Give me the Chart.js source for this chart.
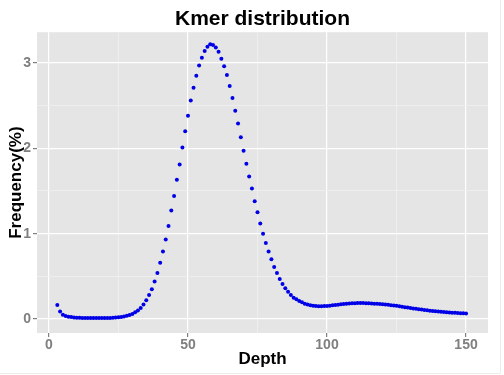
<!DOCTYPE html>
<html>
<head>
<meta charset="utf-8">
<script src="https://cdn.jsdelivr.net/npm/chart.js@4"></script>
<style>
  html, body { margin: 0; padding: 0; background: #fff; }
  #wrap { width: 504px; height: 375px; }
</style>
</head>
<body>
<div id="wrap"><canvas id="mycanvas" width="504" height="375"></canvas></div>
<script>
// kmer depth vs frequency
const depths = [3,4,5,6,7,8,9,10,11,12,13,14,15,16,17,18,19,20,21,22,23,24,25,26,27,28,29,30,
  31,32,33,34,35,36,37,38,39,40,41,42,43,44,45,46,47,48,49,50,51,52,53,54,55,56,57,58,59,60,
  61,62,63,64,65,66,67,68,69,70,71,72,73,74,75,76,77,78,79,80,81,82,83,84,85,86,87,88,89,90,
  91,92,93,94,95,96,97,98,99,100,101,102,103,104,105,106,107,108,109,110,111,112,113,114,115,116,117,118,119,120,
  121,122,123,124,125,126,127,128,129,130,131,132,133,134,135,136,137,138,139,140,141,142,143,144,145,146,147,148,149,150]

const freq = [0.165,0.088,0.05,0.035,0.027,0.022,0.018,0.016,0.014,0.013,0.012,0.012,0.011,0.011,0.011,0.011,0.011,0.012,0.012,0.013,0.015,0.017,0.02,0.024,0.03,0.038,0.048,0.06,
  0.078,0.1,0.13,0.17,0.22,0.28,0.35,0.44,0.54,0.66,0.79,0.93,1.09,1.27,1.44,1.63,1.81,2.01,2.20,2.38,2.56,2.71,2.85,2.97,3.06,3.14,3.19,3.22,3.21,3.18,
  3.13,3.05,2.96,2.86,2.73,2.59,2.44,2.29,2.13,1.97,1.82,1.67,1.53,1.38,1.25,1.12,1.00,0.89,0.79,0.70,0.61,0.54,0.47,0.41,0.36,0.32,0.28,0.25,0.23,0.21,
  0.195,0.18,0.17,0.162,0.156,0.152,0.15,0.15,0.151,0.153,0.156,0.16,0.164,0.168,0.172,0.176,0.179,0.182,0.184,0.185,0.186,0.186,0.186,0.185,0.184,0.182,0.18,0.178,0.175,0.172,
  0.169,0.166,0.162,0.158,0.154,0.149,0.144,0.139,0.134,0.129,0.124,0.119,0.114,0.11,0.106,0.102,0.098,0.094,0.09,0.087,0.084,0.081,0.078,0.076,0.074,0.072,0.07,0.068,0.066,0.064]

const xTicks = [0, 50, 100, 150]
const yTicks = [0, 1, 2, 3]

const FONT = '"Liberation Sans", Arial, sans-serif'
let points = depths.map((d, i) => ({x: d, y: freq[i]}))

// grey panel behind the plot, like ggplot
const panelBg = {
  id: 'panelBg',
  beforeDraw(chart) {
    const {ctx, chartArea: a} = chart
    ctx.save()
    ctx.fillStyle = '#E5E5E5'
    ctx.fillRect(a.left, a.top, a.right - a.left, a.bottom - a.top)
    ctx.restore()
  },
  afterDraw(chart) {
    // faint frame on right / bottom of the image
    const ctx = chart.ctx
    ctx.save()
    ctx.strokeStyle = '#ECECEC'
    ctx.lineWidth = 1
    ctx.beginPath()
    ctx.moveTo(500.5, 0); ctx.lineTo(500.5, 374)
    ctx.moveTo(0, 373.5); ctx.lineTo(501, 373.5)
    ctx.stroke()
    ctx.restore()
  }
}

function gridColor(ctx, majors) {
  if (!ctx.tick) return 'transparent'
  return majors.includes(ctx.tick.value) ? '#FFFFFF' : '#F0F0F0'
}
function tickCol(ctx, majors) {
  if (!ctx.tick) return 'transparent'
  return majors.includes(ctx.tick.value) ? '#7F7F7F' : 'transparent'
}

new Chart(document.getElementById('mycanvas'), {
  type: 'scatter',
  data: {
    datasets: [{
      data: points,
      backgroundColor: '#0000E6',
      borderWidth: 0,
      pointRadius: 2,
      pointHoverRadius: 2
    }]
  },
  plugins: [panelBg],
  options: {
    responsive: false,
    animation: false,
    events: [],
    layout: { padding: { left: 0, right: 16, top: 0, bottom: 0 } },
    plugins: {
      legend: { display: false },
      tooltip: { enabled: false },
      title: {
        display: true,
        text: 'Kmer distribution',
        fullSize: false,
        color: '#000',
        font: { family: FONT, size: 21, weight: 'bold', lineHeight: 1.2 },
        padding: { top: 7, bottom: 0 }
      }
    },
    scales: {
      x: {
        type: 'linear',
        min: -4.3,
        max: 157.9,
        afterFit(s) { s.height = 42 },
        border: { display: false },
        grid: {
          color: c => gridColor(c, xTicks),
          tickColor: c => tickCol(c, xTicks),
          lineWidth: c => (c.tick && xTicks.includes(c.tick.value)) ? 1.2 : 0.8,
          tickLength: 4,
          drawTicks: true
        },
        ticks: {
          stepSize: 25,
          includeBounds: false,
          autoSkip: false,
          maxRotation: 0,
          padding: 0,
          color: '#7F7F7F',
          font: { family: FONT, size: 14, weight: 'bold' },
          callback: v => xTicks.includes(v) ? String(v) : ''
        },
        title: {
          display: true,
          text: 'Depth',
          color: '#000',
          font: { family: FONT, size: 17, weight: 'bold', lineHeight: 1.2 },
          padding: { top: 0, bottom: 5 }
        }
      },
      y: {
        type: 'linear',
        min: -0.164,
        max: 3.36,
        afterFit(s) { s.width = 37 },
        border: { display: false },
        grid: {
          color: c => gridColor(c, yTicks),
          tickColor: c => tickCol(c, yTicks),
          lineWidth: c => (c.tick && yTicks.includes(c.tick.value)) ? 1.2 : 0.8,
          tickLength: 4
        },
        ticks: {
          stepSize: 0.5,
          includeBounds: false,
          autoSkip: false,
          padding: 2,
          color: '#7F7F7F',
          font: { family: FONT, size: 14, weight: 'bold' },
          callback: v => yTicks.includes(v) ? String(v) : ''
        },
        title: {
          display: true,
          text: 'Frequency(%)',
          color: '#000',
          font: { family: FONT, size: 17, weight: 'bold', lineHeight: 1.2 },
          padding: { top: 6, bottom: 0 }
        }
      }
    }
  }
})
</script>
</body>
</html>
